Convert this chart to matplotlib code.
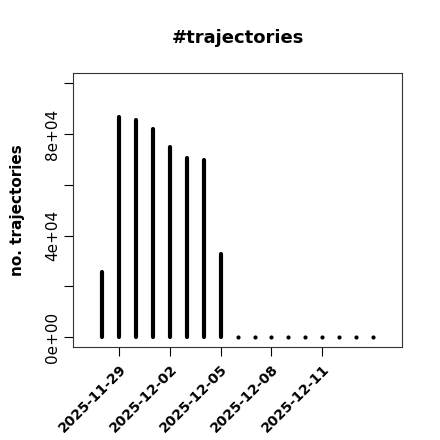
import matplotlib
matplotlib.use("Agg")
import matplotlib.pyplot as plt
import numpy as np
import pandas as pd

dates = pd.date_range("2025-11-28", "2025-12-14", freq="D")
counts = [25600, 86600, 85500, 81900, 74800, 70600, 69800, 32800,
          0, 0, 0, 0, 0, 0, 0, 0, 0]
xtick_labels = ["2025-11-29", "2025-12-02", "2025-12-05", "2025-12-08", "2025-12-11"]
ytick_values = [0, 20000, 40000, 60000, 80000, 100000]
ytick_labels = ["0e+00", "", "4e+04", "", "8e+04", ""]

plt.rcParams['font.family'] = ['DejaVu Sans']
fig = plt.figure(figsize=(4.4, 4.4), dpi=100)
ax = fig.add_axes([0.1659, 0.2107, 0.9136 - 0.1659, 0.8334 - 0.2107])

x = np.array([(d - dates[0]).days for d in dates])
y = np.array(counts)
nz = y > 0
ax.vlines(x[nz], 0, y[nz], colors="black", linewidth=3.0, capstyle="round")
ax.plot(x[~nz], y[~nz], "o", color="black", markersize=3.0, markeredgewidth=0)

ax.set_xlim(-1.71, 17.7)
ax.set_ylim(-3940, 103900)

tick_pos = [(pd.Timestamp(t) - dates[0]).days for t in xtick_labels]
ax.set_xticks(tick_pos)
ax.set_xticklabels(xtick_labels, fontweight="bold", fontsize=10)
for lab in ax.get_xticklabels():
    lab.set_rotation(45)
    lab.set_ha("right")
    lab.set_va("top")
    lab.set_rotation_mode("anchor")
ax.set_yticks(ytick_values)
ax.set_yticklabels(ytick_labels, rotation=90, va="center", fontsize=11)
ax.tick_params(axis="both", direction="out", length=6.5, width=0.8, color="black")
ax.tick_params(axis="x", pad=4)
ax.tick_params(axis="y", pad=3)

for s in ax.spines.values():
    s.set_color("#333333")
    s.set_linewidth(0.8)

ax.set_title("#trajectories", fontweight="bold", fontsize=13, pad=22)
ax.set_ylabel("no. trajectories", fontweight="bold", fontsize=11, labelpad=14)

fig.savefig("out.png", dpi=100)
